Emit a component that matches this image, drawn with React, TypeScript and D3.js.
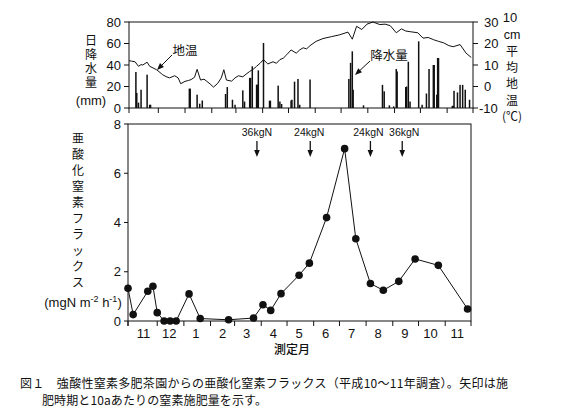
import React from "react";
import * as d3 from "d3";

// ---------- data ----------
const tempDates = [
  "1998-10-28","1998-10-31","1998-11-04","1998-11-08","1998-11-11","1998-11-13","1998-11-18","1998-11-21","1998-11-25","1998-11-29",
  "1998-12-03","1998-12-06","1998-12-10","1998-12-14","1998-12-17","1998-12-20","1998-12-24","1998-12-27","1999-01-01","1999-01-05",
  "1999-01-08","1999-01-12","1999-01-15","1999-01-19","1999-01-23","1999-01-26","1999-01-30","1999-02-03","1999-02-08","1999-02-12",
  "1999-02-15","1999-02-18","1999-02-24","1999-02-28","1999-03-04","1999-03-09","1999-03-13","1999-03-17","1999-03-21","1999-03-25",
  "1999-03-29","1999-04-02","1999-04-07","1999-04-13","1999-04-17","1999-04-21","1999-04-25","1999-04-29","1999-05-04","1999-05-10",
  "1999-05-14","1999-05-18","1999-05-22","1999-05-26","1999-06-02","1999-06-10","1999-06-20","1999-06-29","1999-07-09","1999-07-14",
  "1999-07-19","1999-07-25","1999-07-31","1999-08-07","1999-08-15","1999-08-21","1999-08-27","1999-09-03","1999-09-09","1999-09-14",
  "1999-09-19","1999-09-28","1999-10-04","1999-10-10","1999-10-16","1999-10-22","1999-10-28","1999-11-03","1999-11-08","1999-11-16",
  "1999-11-23","1999-11-29"
];
const tempValues = [
  12.0,11.8,11.5,9.4,10.2,10.0,11.3,9.4,8.6,7.8,
  6.5,5.5,4.6,4.0,4.5,5.0,4.0,1.3,2.4,2.8,
  3.2,4.3,8.0,3.0,3.4,2.5,1.2,-0.3,1.5,4.0,
  7.8,3.0,2.5,4.0,5.0,4.5,5.8,7.0,8.0,9.4,
  10.8,12.5,10.5,11.5,10.8,12.5,13.2,14.8,17.0,15.5,
  17.0,18.0,17.5,19.0,21.0,22.3,23.2,24.0,25.3,22.0,
  28.0,26.5,29.0,30.0,28.8,29.0,28.3,25.0,26.8,25.8,
  25.5,25.0,22.5,22.8,21.8,21.0,20.3,19.0,18.5,19.5,
  15.5,13.5
];

const rainDates = [
  "1998-11-05","1998-11-06","1998-11-08","1998-11-11","1998-11-18","1998-11-21","1998-11-22",
  "1999-01-06","1999-01-07","1999-01-15","1999-01-18","1999-01-21",
  "1999-02-17","1999-02-19","1999-02-25","1999-02-28",
  "1999-03-09","1999-03-11","1999-03-17","1999-03-18","1999-03-20","1999-03-25","1999-03-26","1999-03-27",
  "1999-04-02","1999-04-09","1999-04-10","1999-04-19","1999-04-21","1999-04-23",
  "1999-05-04","1999-05-05","1999-05-08","1999-05-12","1999-05-14","1999-05-26",
  "1999-07-10","1999-07-12","1999-07-14","1999-07-15","1999-07-27",
  "1999-08-18","1999-08-20","1999-08-26","1999-08-31",
  "1999-09-03","1999-09-04","1999-09-14","1999-09-15","1999-09-17","1999-09-19","1999-09-29",
  "1999-10-03","1999-10-08","1999-10-11","1999-10-16","1999-10-17","1999-10-20","1999-10-21","1999-10-22",
  "1999-11-07","1999-11-08","1999-11-09","1999-11-13","1999-11-16","1999-11-19","1999-11-22","1999-11-27"
];
const rainValues = [
  33.5,14,5,17,31,3,3,
  18,18,12.4,4,7,
  13,19.5,7.7,3,
  16.4,6,28,28,38.8,21.7,21.7,35,
  60.5,6.8,6.8,20.8,6,3.7,
  7,7.7,24.5,27,3,26.5,
  27,42,52.7,17,2.5,
  21.5,15.5,2.5,1.5,
  36.3,34,19.5,20,43,6,62,
  3,13.5,36.3,40,40,12.4,46.5,46.5,
  2,2,16,14.5,21.5,21.5,17,7.7
];

const fluxDates = [
  "1998-10-28","1998-11-03","1998-11-20","1998-11-26","1998-12-01","1998-12-09","1998-12-16","1998-12-23",
  "1999-01-07","1999-01-20","1999-02-22","1999-03-23","1999-04-03","1999-04-12","1999-04-24","1999-05-15",
  "1999-05-27","1999-06-16","1999-07-07","1999-07-20","1999-08-06","1999-08-21","1999-09-08","1999-09-27",
  "1999-10-24","1999-11-27"
];
const fluxValues = [
  1.33,0.26,1.21,1.41,0.34,0.0,0.0,0.0,
  1.1,0.1,0.05,0.12,0.66,0.43,1.11,1.86,
  2.35,4.2,7.0,3.34,1.52,1.25,1.61,2.52,
  2.26,0.49
];

const fertDates = ["1999-03-27","1999-05-28","1999-08-06","1999-09-12"];
const fertLabels = ["36kgN","24kgN","24kgN","36kgN"];

const precTicks = [0, 20, 40, 60, 80];
const tempTicks = [-10, 0, 10, 20, 30];
const fluxTicks = [0, 2, 4, 6, 8];

const leftLabelTop = "日降水量";
const rightLabelTop = ["平", "均", "地", "温"];
const fluxLabelChars = ["亜", "酸", "化", "窒", "素", "フ", "ラ", "ッ", "ク", "ス"];
const captionLine1 = "図１　強酸性窒素多肥茶園からの亜酸化窒素フラックス（平成10～11年調査）。矢印は施";
const captionLine2 = "肥時期と10aあたりの窒素施肥量を示す。";

// ---------- chart ----------
const parse = d3.timeParse("%Y-%m-%d");
const NUM = "'Liberation Sans', Arial, sans-serif";
const CJK = "'Noto Sans CJK JP', sans-serif";
const INK = "#111";
const fertLabelShift = [0, -1, -2, 2];

export default function App() {
  const start = new Date(1998, 9, 28);
  const end = new Date(1999, 11, 1);
  const xTop = d3.scaleTime().domain([start, end]).range([129, 473]);
  const xBot = d3.scaleTime().domain([start, end]).range([128, 471]);
  const yPrec = d3.scaleLinear().domain([0, 80]).range([108, 22]);
  const yTemp = d3.scaleLinear().domain([-10, 30]).range([108, 22]);
  const yFlux = d3.scaleLinear().domain([0, 8]).range([321, 124]);

  const monthTicks = [start, ...d3.timeMonth.range(new Date(1998, 11, 1), new Date(1999, 11, 2))];
  const monthLabels = d3.timeMonth.range(new Date(1998, 10, 1), new Date(1999, 11, 1));

  const temp = tempDates.map((d, i) => ({ d: parse(d)!, v: tempValues[i] }));
  const rain = rainDates.map((d, i) => ({ d: parse(d)!, v: rainValues[i] }));
  const flux = fluxDates.map((d, i) => ({ d: parse(d)!, v: fluxValues[i] }));

  const tempLine = d3.line<{ d: Date; v: number }>().x(p => xTop(p.d)).y(p => yTemp(p.v));
  const fluxLine = d3.line<{ d: Date; v: number }>().x(p => xBot(p.d)).y(p => yFlux(p.v));

  const arrowHead = (x: number, y: number, angle: number, len = 7, half = 2.8) => {
    const ca = Math.cos(angle), sa = Math.sin(angle);
    const bx = x - len * ca, by = y - len * sa;
    const px = -sa * half, py = ca * half;
    return `M${x},${y}L${bx + px},${by + py}L${bx - px},${by - py}Z`;
  };

  const annot = (x1: number, y1: number, x2: number, y2: number) => {
    const a = Math.atan2(y2 - y1, x2 - x1);
    return (
      <g>
        <line x1={x1} y1={y1} x2={x2 - 5 * Math.cos(a)} y2={y2 - 5 * Math.sin(a)} stroke={INK} strokeWidth={1} />
        <path d={arrowHead(x2, y2, a)} fill={INK} />
      </g>
    );
  };

  return (
    <svg width={567} height={418} style={{ position: "absolute", left: 0, top: 0, background: "#fff" }}>
      <rect x={0} y={0} width={567} height={418} fill="#fff" />

      {/* ===== top panel ===== */}
      {rain.map((r, i) => (
        <rect key={"r" + i} x={xTop(r.d) - 0.75} y={yPrec(r.v)} width={1.5} height={yPrec(0) - yPrec(r.v)} fill={INK} />
      ))}
      <path d={tempLine(temp) || ""} fill="none" stroke={INK} strokeWidth={1} />
      <rect x={129} y={22} width={344} height={86} fill="none" stroke={INK} strokeWidth={1} />
      {monthTicks.map((m, i) => (
        <line key={"tt" + i} x1={xTop(m)} x2={xTop(m)} y1={108} y2={113} stroke={INK} strokeWidth={1} />
      ))}
      {precTicks.map(t => (
        <g key={"pt" + t}>
          <line x1={124} x2={129} y1={yPrec(t)} y2={yPrec(t)} stroke={INK} />
          <text x={121} y={yPrec(t) + 4.5} textAnchor="end" fontFamily={NUM} fontSize={13} fill={INK}>{t}</text>
        </g>
      ))}
      {tempTicks.map(t => (
        <g key={"tp" + t}>
          <line x1={473} x2={478} y1={yTemp(t)} y2={yTemp(t)} stroke={INK} />
          <text x={t < 0 ? 479 : 484} y={yTemp(t) + 4.5} textAnchor="start" fontFamily={NUM} fontSize={13} fill={INK}>{t < 0 ? "-10" : t}</text>
        </g>
      ))}
      <text x={91} y={34} fontFamily={CJK} fontSize={12} letterSpacing={2} fill={INK} style={{ writingMode: "vertical-rl" }}>{leftLabelTop}</text>
      <text x={91} y={105} textAnchor="middle" fontFamily={NUM} fontSize={13} fill={INK}>(mm)</text>

      <text x={510} y={22} textAnchor="middle" fontFamily={NUM} fontSize={13} fill={INK}>10</text>
      <text x={512} y={38.5} textAnchor="middle" fontFamily={NUM} fontSize={12.5} fill={INK}>cm</text>
      {rightLabelTop.map((c, i) => (
        <text key={"rl" + i} x={512} y={56 + i * 16.2} textAnchor="middle" fontFamily={CJK} fontSize={12} fill={INK}>{c}</text>
      ))}
      <text x={512} y={121} textAnchor="middle" fontFamily={CJK} fontSize={12} fill={INK}>(℃)</text>

      <text x={185} y={55} textAnchor="middle" fontFamily={CJK} fontSize={12.5} fill={INK}>地温</text>
      {annot(172, 55, 157, 70)}
      <text x={389} y={60} textAnchor="middle" fontFamily={CJK} fontSize={12.5} fill={INK}>降水量</text>
      {annot(370, 61, 355, 75)}

      {/* ===== bottom panel ===== */}
      <rect x={128} y={124} width={343} height={197} fill="none" stroke={INK} strokeWidth={1} />
      <line x1={128} x2={128} y1={321} y2={326} stroke={INK} />
      {monthTicks.map((m, i) => (
        <line key={"bt" + i} x1={xBot(m)} x2={xBot(m)} y1={321} y2={326} stroke={INK} strokeWidth={1} />
      ))}
      {monthLabels.map((m, i) => (
        <text key={"ml" + i} x={xBot(d3.timeDay.offset(m, 14))} y={338} textAnchor="middle" fontFamily={NUM} fontSize={13} fill={INK}>
          {m.getMonth() + 1}
        </text>
      ))}
      {fluxTicks.map(t => (
        <g key={"ft" + t}>
          <line x1={124} x2={128} y1={yFlux(t)} y2={yFlux(t)} stroke={INK} />
          <text x={121} y={yFlux(t) + 4.5} textAnchor="end" fontFamily={NUM} fontSize={13} fill={INK}>{t}</text>
        </g>
      ))}
      <path d={fluxLine(flux) || ""} fill="none" stroke={INK} strokeWidth={1} />
      {flux.map((p, i) => (
        <circle key={"fc" + i} cx={xBot(p.d)} cy={yFlux(p.v)} r={3.8} fill={INK} />
      ))}

      {fertDates.map((d, i) => {
        const fx = xBot(parse(d)!);
        return (
          <g key={"fe" + i}>
            <text x={fx + fertLabelShift[i]} y={135.5} textAnchor="middle" fontFamily={NUM} fontSize={10.5} fill={INK}>{fertLabels[i]}</text>
            <line x1={fx} x2={fx} y1={141} y2={151} stroke={INK} strokeWidth={1.3} />
            <path d={arrowHead(fx, 157, Math.PI / 2, 7, 2.8)} fill={INK} />
          </g>
        );
      })}

      {fluxLabelChars.map((c, i) => (
        <text key={"fl" + i} x={78} y={143 + i * 16.05} textAnchor="middle" fontFamily={CJK} fontSize={12} fill={INK}>{c}</text>
      ))}
      <text x={83} y={307} textAnchor="middle" fontFamily={NUM} fontSize={13} fill={INK}>
        (mgN m<tspan dy={-5} fontSize={9}>-2</tspan><tspan dy={5}> h</tspan><tspan dy={-5} fontSize={9}>-1</tspan><tspan dy={5}>)</tspan>
      </text>
      <text x={292} y={354} textAnchor="middle" fontFamily={CJK} fontSize={12} fontWeight={500} fill={INK}>測定月</text>

      {/* ===== caption ===== */}
      <text x={20} y={388} fontFamily={CJK} fontSize={12} fill={INK} textLength={488} lengthAdjust="spacing">{captionLine1}</text>
      <text x={42} y={405} fontFamily={CJK} fontSize={12} fill={INK} textLength={225} lengthAdjust="spacing">{captionLine2}</text>
    </svg>
  );
}
